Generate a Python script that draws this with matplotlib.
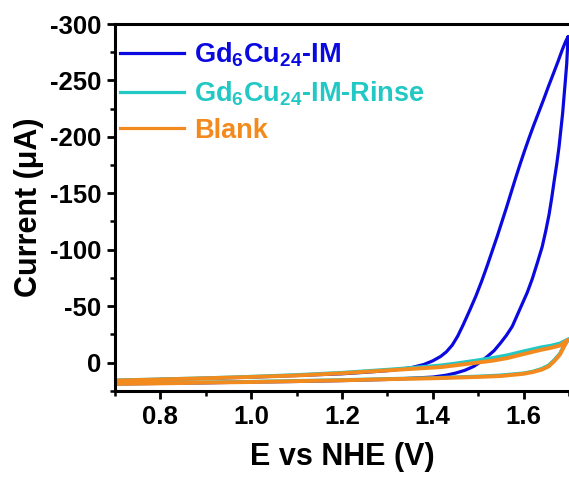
import matplotlib
matplotlib.use("Agg")
import matplotlib.pyplot as plt
from matplotlib.ticker import MultipleLocator

plt.rcParams['font.family'] = ['Liberation Sans', 'DejaVu Sans']
plt.rcParams['font.weight'] = 'bold'
plt.rcParams['axes.unicode_minus'] = False
plt.rcParams['mathtext.fontset'] = 'custom'
plt.rcParams['mathtext.rm'] = 'Liberation Sans:bold'
plt.rcParams['mathtext.bf'] = 'Liberation Sans:bold'
plt.rcParams['mathtext.it'] = 'Liberation Sans:bold'

# Blue: Gd6Cu24-IM (forward then return scan)
blue_E = [0.70, 0.80, 0.90, 1.00, 1.10, 1.20, 1.30, 1.35, 1.40, 1.43, 1.45, 1.47, 1.49, 1.505,
          1.52, 1.535, 1.549, 1.562, 1.575, 1.586, 1.597, 1.608, 1.619, 1.630, 1.641, 1.649,
          1.656, 1.662, 1.667, 1.673, 1.678, 1.682, 1.686, 1.689, 1.692, 1.695, 1.698,
          1.692, 1.685, 1.676, 1.666, 1.655, 1.644, 1.633, 1.622, 1.612, 1.602, 1.592, 1.582,
          1.572, 1.562, 1.552, 1.542, 1.531, 1.520, 1.508, 1.495, 1.481, 1.467, 1.455, 1.443,
          1.430, 1.417, 1.400, 1.380, 1.353, 1.328, 1.30, 1.25, 1.20, 1.10, 1.00, 0.90, 0.80, 0.70]
blue_I = [19, 18.5, 18, 17.3, 16.8, 16, 15, 14, 12.9, 11.2, 9.4, 7, 3.5, -0.5,
          -5.3, -10.5, -17.2, -24, -32, -42, -52, -62, -74, -88, -102.7, -117,
          -131, -146, -160, -176, -191, -206, -221, -235.6, -250, -265, -289,
          -284, -277, -267, -256.5, -245, -233, -221.5, -210, -199, -187.5, -175.5, -163,
          -150, -137, -124.5, -112, -99, -86, -72.5, -59, -46, -33.5, -23.5, -15.5,
          -9.5, -5.3, -1.5, 1.8, 4.5, 6, 7.2, 8.7, 10, 11.5, 13, 14, 15, 16]

# Cyan: Gd6Cu24-IM-Rinse
cyan_E = [0.70, 0.80, 0.90, 1.00, 1.10, 1.20, 1.30, 1.40, 1.50, 1.55, 1.60, 1.62, 1.64, 1.655,
          1.667, 1.680, 1.689, 1.700,
          1.680, 1.660, 1.638, 1.600, 1.564, 1.530, 1.490, 1.450, 1.417, 1.380, 1.343,
          1.300, 1.20, 1.10, 1.00, 0.90, 0.80, 0.70]
cyan_I = [18.5, 18, 17.5, 17, 16.2, 15.5, 14.5, 13.7, 12.3, 11.3, 9.5, 8, 5.5, 2.5,
          -2, -8, -15, -21,
          -17, -15, -13.5, -10, -6.5, -4, -1.5, 0.8, 2.5, 3.8, 5,
          6.3, 9, 11, 12.5, 13.8, 14.8, 15.8]

# Orange: Blank
orange_E = [0.70, 0.80, 0.90, 1.00, 1.10, 1.20, 1.30, 1.40, 1.50, 1.55, 1.60, 1.62, 1.64, 1.655,
            1.667, 1.680, 1.689, 1.697,
            1.680, 1.660, 1.638, 1.600, 1.564, 1.530, 1.490, 1.450, 1.417, 1.380, 1.343,
            1.300, 1.20, 1.10, 1.00, 0.90, 0.80, 0.70]
orange_I = [19, 18.5, 17.8, 17.3, 16.5, 15.8, 14.8, 14, 12.8, 12, 10, 8.5, 6.3, 3.5,
            -1, -7, -14, -20,
            -15, -13, -11.2, -7.5, -3.9, -1.5, 0.5, 2.5, 4.1, 5, 5.9,
            7, 9.5, 11.5, 12.8, 14, 15, 16]

labels = [r'Gd$_6$Cu$_{24}$-IM', r'Gd$_6$Cu$_{24}$-IM-Rinse', 'Blank']
colors = ['#0A0AE0', '#22C8C4', '#F28A1E']

fig = plt.figure(figsize=(5.69, 4.79), dpi=100)
ax = fig.add_axes([0.2021, 0.1843, 0.7979, 0.7655])

ax.plot(blue_E, blue_I, color=colors[0], lw=2.3, label=labels[0], solid_joinstyle='round')
ax.plot(cyan_E, cyan_I, color=colors[1], lw=2.6, label=labels[1], solid_joinstyle='round')
ax.plot(orange_E, orange_I, color=colors[2], lw=2.8, label=labels[2], solid_joinstyle='round')

ax.set_xlim(0.7, 1.7)
ax.set_ylim(25, -300)
ax.xaxis.set_minor_locator(MultipleLocator(0.1))
ax.yaxis.set_major_locator(MultipleLocator(50))
ax.yaxis.set_minor_locator(MultipleLocator(25))
ax.set_xticks([0.8, 1.0, 1.2, 1.4, 1.6])
ax.set_xticklabels(['0.8', '1.0', '1.2', '1.4', '1.6'])

for s in ['left', 'bottom', 'top']:
    ax.spines[s].set_linewidth(2.2)
ax.spines['right'].set_visible(False)
ax.tick_params(which='major', direction='out', length=6, width=2, labelsize=18.5, pad=4)
ax.tick_params(which='minor', direction='out', length=3.5, width=1.8)
ax.tick_params(top=False, right=False)
for t in ax.get_xticklabels() + ax.get_yticklabels():
    t.set_fontweight('bold')

ax.set_xlabel('E vs NHE (V)', fontsize=22, fontweight='bold', labelpad=10)
ax.set_ylabel('Current (μA)', fontsize=22, fontweight='bold', labelpad=4)

leg = ax.legend(loc='upper left', frameon=False, fontsize=19.5, handlelength=2.35,
                handletextpad=0.38, labelspacing=0.38, borderaxespad=0.0, borderpad=0.3,
                bbox_to_anchor=(-0.006, 0.978))
for txt, c in zip(leg.get_texts(), colors):
    txt.set_color(c)
    txt.set_fontweight('bold')
for h in leg.get_lines():
    h.set_linewidth(2.3)

fig.savefig('out.png', dpi=100)
